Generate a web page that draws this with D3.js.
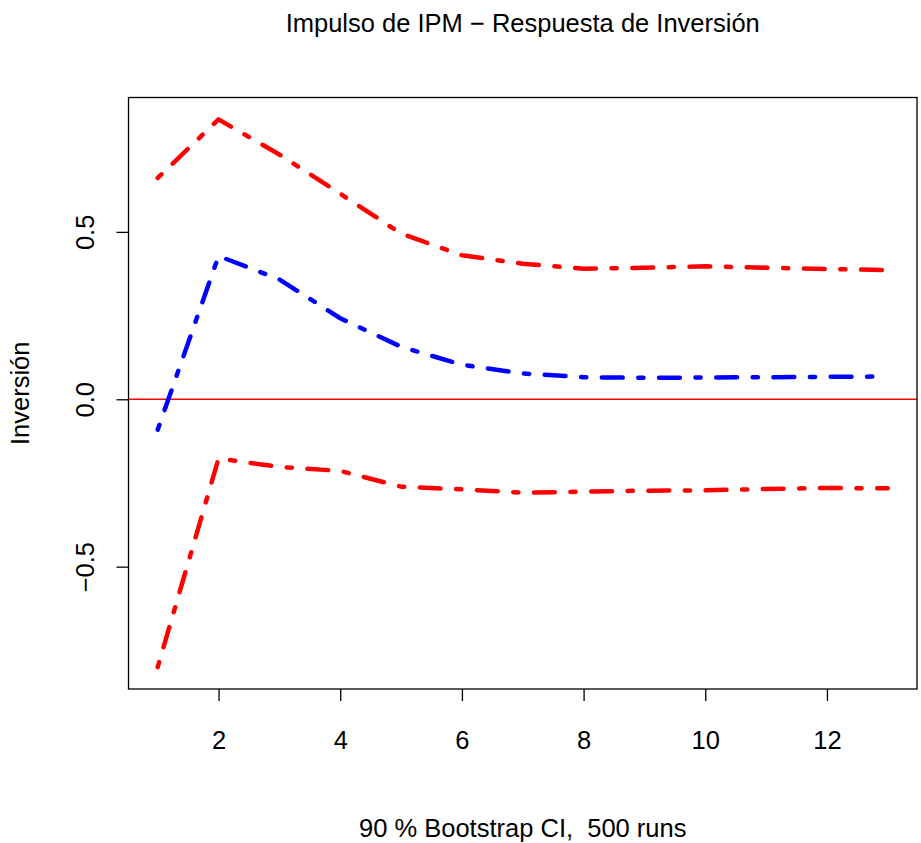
<!DOCTYPE html>
<html>
<head>
<meta charset="utf-8">
<script src="https://cdn.jsdelivr.net/npm/d3@7"></script>
<style>
  body { margin: 0; background: #fff; }
  text { font-family: "Liberation Sans", Arial, sans-serif; fill: #000; }
</style>
</head>
<body>
<svg width="921" height="843"></svg>
<script>
// impulse response horizon
var steps = [1, 2, 3, 4, 5, 6, 7, 8, 9, 10, 11, 12, 13];
var irf   = [-0.091, 0.428, 0.358, 0.242, 0.157, 0.103, 0.077, 0.066, 0.064, 0.065, 0.066, 0.067, 0.068];
var upper = [0.661, 0.836, 0.731, 0.614, 0.495, 0.430, 0.405, 0.390, 0.393, 0.397, 0.393, 0.389, 0.386];
var lower = [-0.800, -0.177, -0.202, -0.214, -0.261, -0.269, -0.279, -0.276, -0.273, -0.272, -0.268, -0.265, -0.266];
var xTicks = [2, 4, 6, 8, 10, 12];
var yTicks = [-0.5, 0.0, 0.5];

var svg = d3.select("svg"),
    width = +svg.attr("width"),
    height = +svg.attr("height");

var plotL = 128.5, plotR = 917, plotT = 97.5, plotB = 689;
var fs = "25.5px";

// R style 4% padding on each side
var ymin = d3.min(lower), ymax = d3.max(upper), pad = (ymax - ymin) * 0.04;
var x = d3.scaleLinear().domain([1 - 12 * 0.04, 13 + 12 * 0.04]).range([plotL, plotR]);
var y = d3.scaleLinear().domain([ymin - pad, ymax + pad]).range([plotB, plotT]);

svg.append("text")
    .attr("x", (plotL + plotR) / 2)
    .attr("y", 32)
    .attr("text-anchor", "middle")
    .style("font-size", fs)
    .text("Impulso de IPM \u2212 Respuesta de Inversi\u00f3n");

// zero line
svg.append("line")
    .attr("x1", plotL).attr("x2", plotR)
    .attr("y1", y(0)).attr("y2", y(0))
    .attr("stroke", "#ff0000")
    .attr("stroke-width", 1.6);

var line = d3.line()
    .x(function(d, i) { return x(steps[i]); })
    .y(function(d) { return y(d); });

var series = [
  { values: upper, color: "#ff0000" },
  { values: lower, color: "#ff0000" },
  { values: irf, color: "#0000ff" }
];

svg.append("g")
    .selectAll("path")
    .data(series)
    .enter().append("path")
    .attr("d", function(d) { return line(d.values); })
    .attr("fill", "none")
    .attr("stroke", function(d) { return d.color; })
    .attr("stroke-width", 4.5)
    .attr("stroke-linecap", "round")
    .attr("stroke-linejoin", "round")
    .attr("stroke-dasharray", "5.2,15.6,20.8,15.6");

// box
svg.append("rect")
    .attr("x", plotL).attr("y", plotT)
    .attr("width", plotR - plotL).attr("height", plotB - plotT)
    .attr("fill", "none")
    .attr("stroke", "#000")
    .attr("stroke-width", 1.3);

var xAxis = svg.append("g")
    .attr("transform", "translate(0," + plotB + ")")
    .call(d3.axisBottom(x).tickValues(xTicks).tickSize(12).tickPadding(30).tickFormat(d3.format("d")));

var yAxis = svg.append("g")
    .attr("transform", "translate(" + plotL + ",0)")
    .call(d3.axisLeft(y).tickValues(yTicks).tickSize(12).tickFormat(function(d) { return d3.format(".1f")(d).replace("-", "\u2212"); }));

[xAxis, yAxis].forEach(function(a) {
  a.select(".domain").remove();
  a.selectAll("line").attr("stroke", "#000").attr("stroke-width", 1.3);
  a.selectAll("text").style("font-size", fs).attr("font-family", null);
});

yAxis.selectAll("text")
    .attr("x", null).attr("dy", null)
    .attr("text-anchor", "middle")
    .attr("transform", "translate(-35,0) rotate(-90)");

svg.append("text")
    .attr("transform", "translate(29," + ((plotT + plotB) / 2) + ") rotate(-90)")
    .attr("text-anchor", "middle")
    .style("font-size", fs)
    .text("Inversi\u00f3n");

svg.append("text")
    .attr("x", (plotL + plotR) / 2)
    .attr("y", 837)
    .attr("text-anchor", "middle")
    .style("font-size", fs)
    .style("white-space", "pre")
    .text("90 % Bootstrap CI,  500 runs");
</script>
</body>
</html>
